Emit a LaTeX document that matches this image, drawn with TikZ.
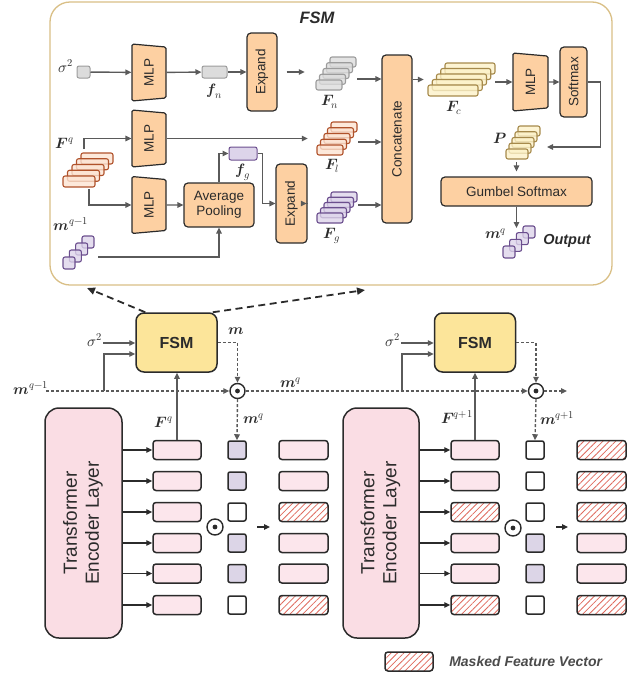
\documentclass[tikz,border=0pt]{standalone}
\usepackage{fontspec}
\usepackage{unicode-math}
\setmainfont{Liberation Sans}
\setmathfont{Latin Modern Math}
\usepackage{graphicx}
\usetikzlibrary{arrows.meta, positioning, shapes.geometric, patterns.meta}

\definecolor{peach}{HTML}{FDD0A2}
\definecolor{darkline}{HTML}{2B2B2B}
\definecolor{arrgray}{HTML}{5A5A5A}
\definecolor{fsmyellow}{HTML}{FCE59A}
\definecolor{encpink}{HTML}{FADDE4}
\definecolor{vecpink}{HTML}{FCE6EC}
\definecolor{maskpurple}{HTML}{DCD5E7}
\definecolor{framegold}{HTML}{D9BF86}
\definecolor{grayfill}{HTML}{DCDCDC}
\definecolor{grayedge}{HTML}{9C9C9C}
\definecolor{rustfill}{HTML}{FCE3D2}
\definecolor{rustedge}{HTML}{B0522B}
\definecolor{purpfill}{HTML}{DDD4EA}
\definecolor{purpedge}{HTML}{6B4E8E}
\definecolor{tanfill}{HTML}{FCF1C8}
\definecolor{tanedge}{HTML}{A68A4B}
\definecolor{hatchred}{HTML}{E06A5E}

\begin{document}
\begin{tikzpicture}[
  x=1pt, y=-1pt,
  font=\fontsize{13.5}{15.5}\selectfont,
  lab/.style={font=\fontsize{15}{17}\selectfont, inner sep=0pt, text=darkline},
  arr/.style={-{Triangle[length=6pt,width=5.5pt]}, line width=1.4pt, draw=arrgray},
  dotarr/.style={arr, dash pattern=on 3pt off 2pt},
  dasharr/.style={-{Triangle[length=8pt,width=7pt]}, line width=1.8pt,
    dash pattern=on 7pt off 4.5pt, draw=darkline},
  encarr/.style={-{Triangle[length=6pt,width=5.5pt]}, line width=1.4pt, draw=darkline},
  opbox/.style={draw=darkline, fill=peach, line width=1.2pt, rounded corners=4pt,
    inner sep=0pt, align=center, text=darkline},
  mlp/.style={trapezium, trapezium stretches=true, shape border rotate=270,
    trapezium left angle=80, trapezium right angle=80, draw=darkline, fill=peach,
    line width=1.2pt, rounded corners=1.5pt, inner sep=0pt,
    minimum width=57, minimum height=34, text=darkline},
  smallvec/.style={rounded corners=2pt, line width=1pt, inner sep=0pt},
  stk/.style={rounded corners=2pt, line width=1.1pt, inner sep=0pt, fill opacity=0.8},
  ghost/.style={inner sep=0pt, draw=none},
  fsmbox/.style={draw=darkline, fill=fsmyellow, line width=1.5pt, rounded corners=8pt,
    minimum width=81, minimum height=59, font=\fontsize{16}{18}\selectfont\bfseries,
    text=darkline},
  encbox/.style={draw=darkline, fill=encpink, line width=1.5pt, rounded corners=14pt,
    minimum width=77, minimum height=230, font=\fontsize{19}{22}\selectfont,
    text=darkline},
  vecbox/.style={draw=darkline, fill=vecpink, line width=1.5pt, rounded corners=3pt,
    minimum width=48, minimum height=19, inner sep=0pt},
  hatched/.style={vecbox, preaction={fill=white},
    pattern={Lines[angle=45, distance=4.5pt, line width=0.8pt]}, pattern color=hatchred},
  maskon/.style={draw=darkline, fill=maskpurple, line width=1.5pt, rounded corners=2pt,
    minimum size=18, inner sep=0pt},
  maskoff/.style={maskon, fill=white},
  odot/.style={circle, draw=darkline, fill=white, line width=1.4pt, minimum size=15,
    inner sep=0pt, path picture={\fill[darkline] (path picture bounding box.center)
    circle (2.4pt);}}
]
\useasboundingbox (0,0) rectangle (641,675);

% =========================
% FSM detail frame
% =========================
\node[draw=framegold, line width=1.3pt, rounded corners=20pt, minimum width=562,
  minimum height=283, inner sep=0pt] (frame) at (331,143.5) {};
\node[font=\fontsize{16.5}{18}\selectfont\bfseries\itshape, text=darkline] (ftitle) at (317,18) {FSM};

% row 1: noise level
\node[lab] (siglab) at (65.5,66) {$\sigma^2$};
\node[smallvec, draw=grayedge, fill=grayfill, minimum width=13, minimum height=12] (sigsq) at (83.5,72) {};
\node[mlp] (mlp1) at (149,72.5) {\rotatebox{90}{MLP}};
\node[smallvec, draw=grayedge, fill=grayfill, minimum width=25, minimum height=12] (fnvec) at (214.5,72) {};
\node[lab] (fnlab) at (214.5,91) {$\symbfit{f}_n$};
\node[opbox, minimum width=30, minimum height=78] (exp1) at (262,72) {\rotatebox{90}{Expand}};

\foreach \k in {4,3,...,0}
  \node[stk, draw=grayedge, fill=grayfill, minimum width=26, minimum height=10] at (329+3.5*\k, 85-5.75*\k) {};
\node[ghost, minimum width=40, minimum height=33] (Fn) at (336,73.5) {};
\node[lab] (Fnlab) at (330,102) {$\symbfit{F}_n$};

\draw[arr] (sigsq) -- (mlp1);
\draw[arr] (mlp1) -- (fnvec);
\draw[arr] (fnvec) -- (exp1);
\draw[arr, shorten <=9pt, shorten >=11pt] (exp1.east) -- (exp1.east -| Fn.west);

% row 2: local features
\node[lab] (Fqlab) at (65,143) {$\symbfit{F}^q$};
\foreach \k in {4,3,...,0}
  \node[stk, draw=rustedge, fill=rustfill, minimum width=32, minimum height=11] at (79+4.5*\k, 181.5-5.75*\k) {};
\node[ghost, minimum width=50, minimum height=34] (Fq) at (88,170) {};
\node[mlp] (mlp2) at (149,138.5) {\rotatebox{90}{MLP}};

\foreach \k in {4,3,...,0}
  \node[stk, draw=rustedge, fill=rustfill, minimum width=26, minimum height=10] at (330+3.5*\k, 150-5.75*\k) {};
\node[ghost, minimum width=40, minimum height=32] (Fl) at (337,139) {};
\node[lab] (Fllab) at (332,166) {$\symbfit{F}_l$};

\coordinate (fqup) at (84,149);
\coordinate (fqdown) at (89,189);
\draw[arr] (fqup) |- (mlp2.west);
\draw[arr, shorten >=9pt] (mlp2.east) -- (mlp2.east -| Fl.west);

% row 3: global features
\node[mlp] (mlp3) at (149,205) {\rotatebox{90}{MLP}};
\node[opbox, minimum width=70, minimum height=44] (avgpool) at (219,205) {Average\\Pooling};
\node[smallvec, draw=purpedge, fill=purpfill, minimum width=28, minimum height=13] (fgvec) at (243,153.5) {};
\node[lab] (fglab) at (243,172) {$\symbfit{f}_g$};
\node[opbox, minimum width=31, minimum height=79] (exp2) at (291.5,203.5) {\rotatebox{90}{Expand}};

\foreach \k in {4,3,...,0}
  \node[stk, draw=purpedge, fill=purpfill, minimum width=26, minimum height=10] at (330+3.5*\k, 218-5.25*\k) {};
\node[ghost, minimum width=40, minimum height=31] (Fg) at (337,207.5) {};
\node[lab] (Fglab) at (332,236) {$\symbfit{F}_g$};

\node[lab] (mq1lab) at (71,224) {$\symbfit{m}^{q-1}$};
\foreach \k in {3,2,1,0}
  \node[stk, draw=purpedge, fill=purpfill, minimum width=12, minimum height=12] at (69+6.33*\k, 263-7*\k) {};
\coordinate (mq1out) at (98,257);

\draw[arr] (fqdown) |- (mlp3.west);
\draw[arr] (mlp3) -- (avgpool);
\draw[arr] (avgpool.north) |- (fgvec.west);
\draw[arr] (fgvec.east) -- ++(5,0) |- (exp2.west);
\draw[arr] (mq1out) -| (avgpool.south);
\draw[arr, shorten >=10pt] (exp2.east) -- (exp2.east -| Fg.west);

% concatenation and selection
\node[opbox, minimum width=30, minimum height=168] (concat) at (397,139) {\rotatebox{90}{Concatenate}};
\coordinate (fnout) at (357,79);
\coordinate (flout) at (358,142);
\coordinate (fgout) at (358,205);
\draw[arr] (fnout) -- (fnout -| concat.west);
\draw[arr] (flout) -- (flout -| concat.west);
\draw[arr] (fgout) -- (fgout -| concat.west);

\foreach \k in {4,3,...,0}
  \node[stk, draw=tanedge, fill=tanfill, minimum width=50, minimum height=11] at (453+4.25*\k, 90.5-5.5*\k) {};
\node[ghost, minimum width=67, minimum height=33] (Fc) at (461.5,79.5) {};
\node[lab] (Fclab) at (454,108) {$\symbfit{F}_c$};

\node[mlp, minimum width=58, minimum height=35] (mlp4) at (530.5,82) {\rotatebox{90}{MLP}};
\node[opbox, minimum width=27, minimum height=70] (softmax) at (573.5,82) {\rotatebox{90}{Softmax}};

\foreach \k in {4,3,...,0}
  \node[stk, draw=tanedge, fill=tanfill, minimum width=22, minimum height=10] at (517+3*\k, 154-5.75*\k) {};
\node[ghost, minimum width=34, minimum height=33] (P) at (523,142.5) {};
\node[lab] (Plab) at (500,138) {$\symbfit{P}$};

\node[opbox, minimum width=151, minimum height=29] (gumbel) at (516.5,191.5) {Gumbel Softmax};

\foreach \k in {3,2,1,0}
  \node[stk, draw=purpedge, fill=purpfill, minimum width=12, minimum height=12] at (509+6.67*\k, 252-6.67*\k) {};
\node[ghost, minimum width=32, minimum height=32] (mqout) at (519,242) {};
\node[lab] (mqoutlab) at (496,234) {$\symbfit{m}^q$};
\node[font=\fontsize{14.5}{16}\selectfont\bfseries\itshape, text=darkline] (outlab) at (567,241) {Output};

\coordinate (pin) at (547,147);
\coordinate (mqtop) at (516.5,228);
\draw[arr, shorten >=4pt] (Fc.west -| concat.east) -- (Fc.west);
\draw[arr] (Fc.east |- mlp4.west) -- (mlp4.west);
\draw[arr] (mlp4) -- (softmax);
\draw[arr] (softmax.east) -- ++(13,0) |- (pin);
\draw[arr, shorten <=3pt, shorten >=5pt] (gumbel.north |- P.south) -- (gumbel.north);
\draw[arr] (gumbel.south) -- (mqtop);

% =========================
% Lower pipeline
% =========================
\node[fsmbox] (fsmA) at (176.5,342.5) {FSM};
\node[fsmbox] (fsmB) at (475,342.5) {FSM};

\coordinate (zoomL) at (87,288);
\coordinate (zoomR) at (365,290);
\draw[dasharr] ([xshift=10pt]fsmA.north west) -- (zoomL);
\draw[dasharr] ([xshift=-5pt]fsmA.north east) -- (zoomR);

% block A
\node[lab] (sigA) at (95,340) {$\sigma^2$};
\node[lab] (mstartlab) at (31,388) {$\symbfit{m}^{q-1}$};
\node[lab] (mlabA) at (236,331) {$\symbfit{m}$};
\node[lab] (mqlab) at (291,383) {$\symbfit{m}^q$};
\node[odot] (odotA) at (237.5,391) {};
\coordinate (sA) at (103,343);
\coordinate (tapA) at (104,391);
\coordinate (inA) at ([yshift=-11.5pt]fsmA.west);
\coordinate (mstart) at (46,391);
\draw[arr] (sA) -- (sA -| fsmA.west);
\draw[arr] (tapA) |- (inA);
\draw[dotarr] (mstart) -- (odotA.west);
\draw[dotarr] (fsmA.east) -| (odotA.north);

\node[encbox] (encA) at (83.5,523) {\rotatebox{90}{\begin{tabular}{@{}c@{}}Transformer\\Encoder Layer\end{tabular}}};
\foreach \r/\yy/\fs/\ms/\os in {1/450/vecbox/maskon/vecbox, 2/481/vecbox/maskon/vecbox,
    3/512/vecbox/maskoff/hatched, 4/543/vecbox/maskon/vecbox,
    5/573.5/vecbox/maskon/vecbox, 6/605/vecbox/maskoff/hatched} {
  \node[\fs] (fa\r) at (177,\yy) {};
  \node[\ms] (ma\r) at (237,\yy) {};
  \node[\os, minimum width=49] (oa\r) at (303.5,\yy) {};
  \draw[encarr] (encA.east |- fa\r.west) -- (fa\r.west);
}
\node[odot, minimum size=16] (midA) at (215,527) {};
\coordinate (resA1) at (257,527);
\coordinate (resA2) at (270,527);
\draw[encarr, line width=1.2pt] (resA1) -- (resA2);
\node[lab] (FqA) at (164,422) {$\symbfit{F}^q$};
\node[lab] (mqA) at (254,419) {$\symbfit{m}^q$};
\draw[arr] (fa1.north) -- (fa1.north |- fsmA.south);
\draw[dotarr] (odotA.south) -- (ma1.north);

% block B
\node[lab] (sigB) at (392.5,340) {$\sigma^2$};
\node[odot] (odotB) at (536,391) {};
\coordinate (sB) at (401,343);
\coordinate (tapB) at (402,391);
\coordinate (inB) at ([yshift=-11.5pt]fsmB.west);
\coordinate (mend) at (567,391);
\draw[arr] (sB) -- (sB -| fsmB.west);
\draw[arr] (tapB) |- (inB);
\draw[dotarr] (odotA.east) -- (odotB.west);
\draw[dotarr] (odotB.east) -- (mend);
\draw[dotarr] (fsmB.east) -| (odotB.north);

\node[encbox, minimum width=76] (encB) at (381,523) {\rotatebox{90}{\begin{tabular}{@{}c@{}}Transformer\\Encoder Layer\end{tabular}}};
\foreach \r/\yy/\fs/\ms/\os in {1/450/vecbox/maskoff/hatched, 2/481/vecbox/maskoff/hatched,
    3/512/hatched/maskoff/hatched, 4/543/vecbox/maskon/vecbox,
    5/573.5/vecbox/maskon/vecbox, 6/605/hatched/maskoff/hatched} {
  \node[\fs] (fb\r) at (475,\yy) {};
  \node[\ms] (mb\r) at (535,\yy) {};
  \node[\os, minimum width=49] (ob\r) at (601.5,\yy) {};
  \draw[encarr] (encB.east |- fb\r.west) -- (fb\r.west);
}
\node[odot, minimum size=16] (midB) at (513,528) {};
\coordinate (resB1) at (556,527);
\coordinate (resB2) at (568,527);
\draw[encarr, line width=1.2pt] (resB1) -- (resB2);
\node[lab] (FqB) at (457,417) {$\symbfit{F}^{q+1}$};
\node[lab] (mqB) at (557.5,418) {$\symbfit{m}^{q+1}$};
\draw[arr] (fb1.north) -- (fb1.north |- fsmB.south);
\draw[dotarr] (odotB.south) -- (mb1.north);

% legend
\node[hatched] (legbox) at (409,661.5) {};
\node[font=\fontsize{14}{16}\selectfont\bfseries\itshape, text=darkline!85, right=12pt of legbox] (legtext) {Masked Feature Vector};

\end{tikzpicture}
\end{document}
